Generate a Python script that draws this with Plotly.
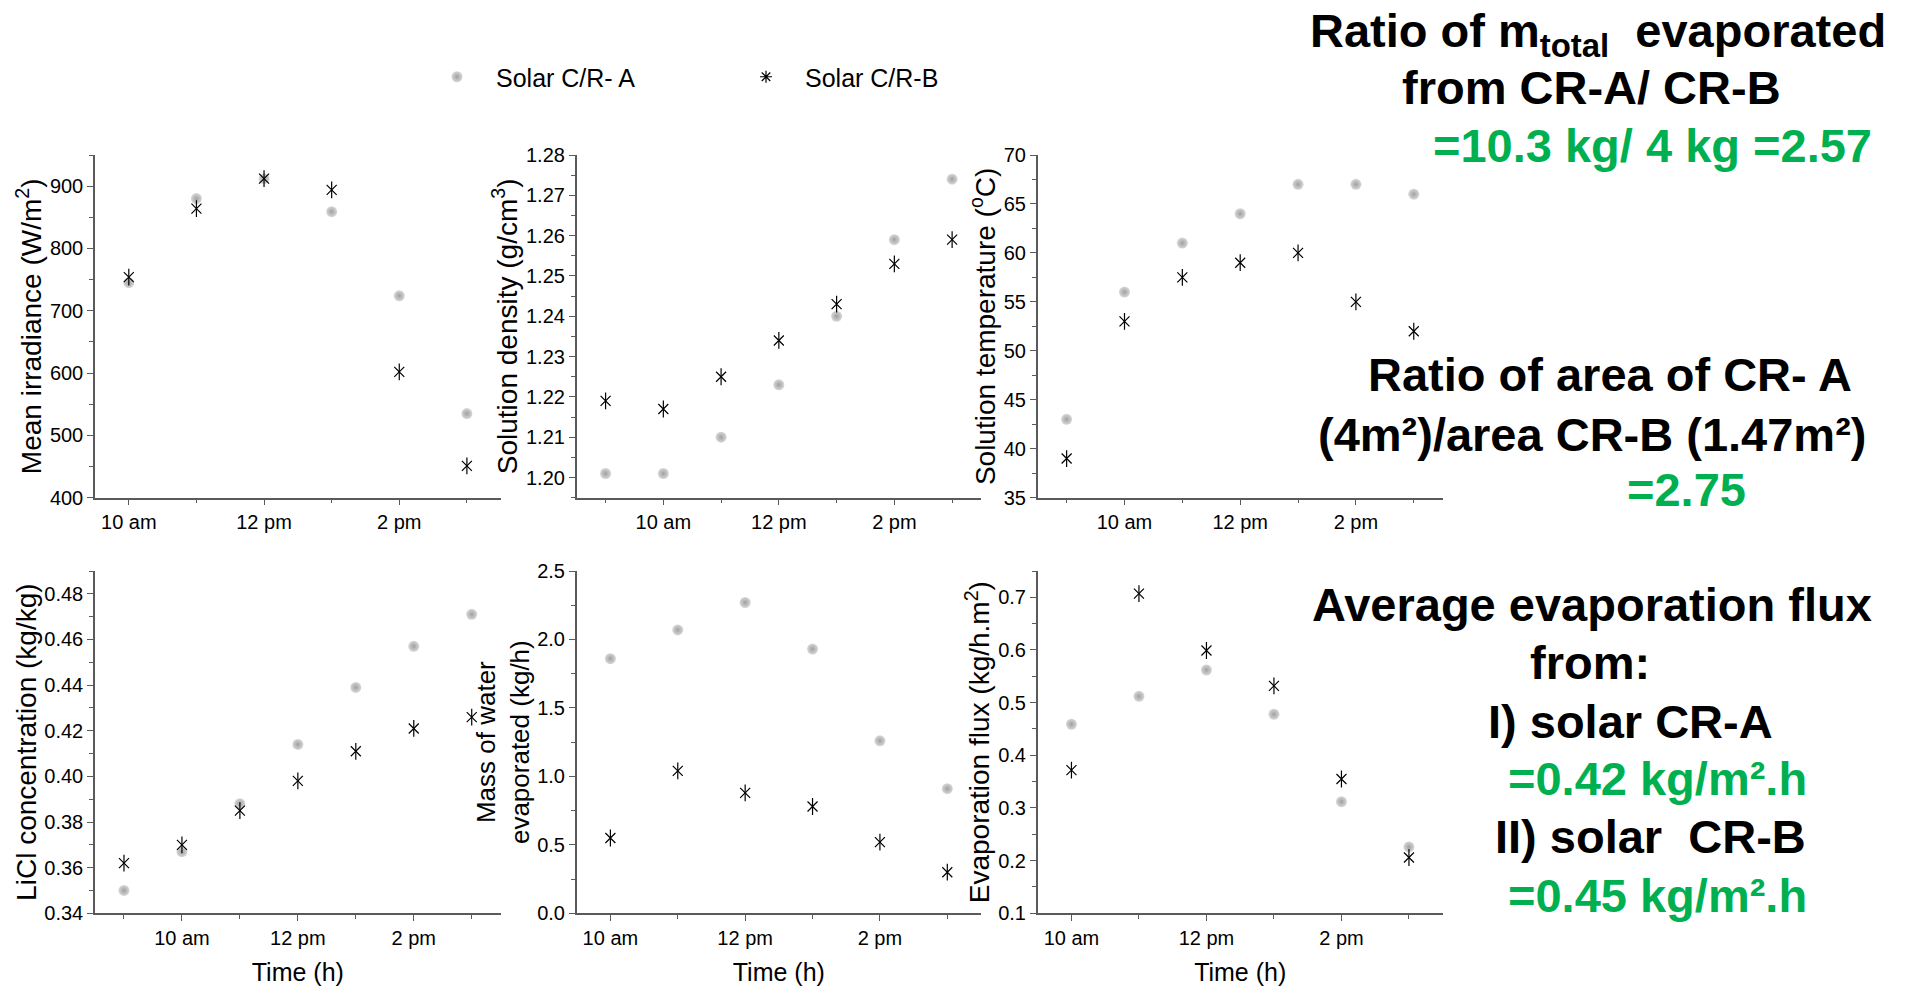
import plotly.graph_objects as go

# Sampling hours (24 h clock)
hours_six = [10, 11, 12, 13, 14, 15]
hours_seven = [9, 10, 11, 12, 13, 14, 15]
time_tickvals = [10, 12, 14]
time_ticktext = ["10 am", "12 pm", "2 pm"]

series_names = ["Solar C/R- A", "Solar C/R-B"]

# Mean irradiance (W/m2)
irradiance_a = [745, 880, 912, 859, 724, 535]
irradiance_b = [754, 864, 912, 894, 602, 451]

# Solution density (g/cm3)
density_a = [1.201, 1.201, 1.210, 1.223, 1.240, 1.259, 1.274]
density_b = [1.219, 1.217, 1.225, 1.234, 1.243, 1.253, 1.259]

# Solution temperature (oC)
temperature_a = [43, 56, 61, 64, 67, 67, 66]
temperature_b = [39, 53, 57.5, 59, 60, 55, 52]

# LiCl concentration (kg/kg)
licl_a = [0.350, 0.367, 0.388, 0.414, 0.439, 0.457, 0.471]
licl_b = [0.362, 0.370, 0.385, 0.398, 0.411, 0.421, 0.426]

# Mass of water evaporated (kg/h)
mass_a = [1.86, 2.07, 2.27, 1.93, 1.26, 0.91]
mass_b = [0.55, 1.04, 0.88, 0.78, 0.52, 0.30]

# Evaporation flux (kg/h.m2)
flux_a = [0.459, 0.512, 0.562, 0.478, 0.312, 0.226]
flux_b = [0.372, 0.707, 0.599, 0.532, 0.355, 0.206]

W, H = 1906, 989
FONT = "Arial, Liberation Sans, sans-serif"
AXIS_GREY = "#5a5a5a"
GREEN = "rgb(0,176,80)"

# Plot boxes in pixels: (left, right, top, bottom)
col_px = [(95, 500.7), (576.7, 981), (1037.7, 1442.7)]
row_px = [(155, 497.7), (571, 913.3)]

panels = [
    dict(x=hours_six, a=irradiance_a, b=irradiance_b, xr=[9.5, 15.5], yr=[400, 950],
         tick0=400, dtick=100, fmt="d", title="Mean irradiance (W/m<sup>2</sup>)",
         tsize=28, pos=(0, 0)),
    dict(x=hours_seven, a=density_a, b=density_b, xr=[8.5, 15.5], yr=[1.195, 1.28],
         tick0=1.20, dtick=0.01, fmt=".2f", title="Solution density (g/cm<sup>3</sup>)",
         tsize=28, pos=(0, 1)),
    dict(x=hours_seven, a=temperature_a, b=temperature_b, xr=[8.5, 15.5], yr=[35, 70],
         tick0=35, dtick=5, fmt="d", title="Solution temperature (<sup>o</sup>C)",
         tsize=28, pos=(0, 2)),
    dict(x=hours_seven, a=licl_a, b=licl_b, xr=[8.5, 15.5], yr=[0.34, 0.49],
         tick0=0.34, dtick=0.02, fmt=".2f", title="LiCl concentration (kg/kg)",
         tsize=28, pos=(1, 0)),
    dict(x=hours_six, a=mass_a, b=mass_b, xr=[9.5, 15.5], yr=[0, 2.5],
         tick0=0, dtick=0.5, fmt=".1f", title="Mass of water<br>evaporated (kg/h)",
         tsize=26, pos=(1, 1)),
    dict(x=hours_six, a=flux_a, b=flux_b, xr=[9.5, 15.5], yr=[0.1, 0.75],
         tick0=0.1, dtick=0.1, fmt=".1f", title="Evaporation flux (kg/h.m<sup>2</sup>)",
         tsize=28, pos=(1, 2)),
]

fig = go.Figure()
layout = {}

sphere = dict(symbol="circle", size=11, color="#d8d8d8",
              gradient=dict(type="radial", color="#a0a0a0"), line=dict(width=0))

for i, p in enumerate(panels):
    n = "" if i == 0 else str(i + 1)
    xa, ya = "x" + n, "y" + n
    row, col = p["pos"]
    l, r = col_px[col]
    t, b = row_px[row]
    minor_x = [h for h in p["x"] if h not in time_tickvals]

    fig.add_trace(go.Scatter(
        x=p["x"], y=p["a"], mode="markers", xaxis=xa, yaxis=ya,
        name=series_names[0], marker=sphere, showlegend=(i == 0), legend="legend"))
    fig.add_trace(go.Scatter(
        x=p["x"], y=p["b"], mode="markers", xaxis=xa, yaxis=ya, showlegend=False,
        marker=dict(symbol="x-thin-open", size=10, color="black", line=dict(width=1.2, color="black"))))
    fig.add_trace(go.Scatter(
        x=p["x"], y=p["b"], mode="markers", xaxis=xa, yaxis=ya, showlegend=False,
        marker=dict(symbol="line-ns-open", size=12, color="black", line=dict(width=1.2, color="black"))))

    xaxis = dict(
        domain=[l / W, r / W], anchor=ya, range=p["xr"], automargin=False,
        tickmode="array", tickvals=time_tickvals, ticktext=time_ticktext,
        ticks="outside", ticklen=6, tickwidth=1.2, tickcolor=AXIS_GREY,
        minor=dict(tickmode="array", tickvals=minor_x, ticks="outside", ticklen=4,
                   tickwidth=1.2, tickcolor=AXIS_GREY),
        showline=True, linecolor=AXIS_GREY, linewidth=1.5, showgrid=False, zeroline=False,
        tickfont=dict(family=FONT, size=20, color="black"), ticklabelstandoff=0,
    )
    if row == 1:
        xaxis["title"] = dict(text="Time (h)", standoff=15,
                              font=dict(family=FONT, size=25, color="black"))
    layout["xaxis" + n] = xaxis
    layout["yaxis" + n] = dict(
        domain=[1 - b / H, 1 - t / H], anchor=xa, range=p["yr"], automargin=False,
        tickmode="linear", tick0=p["tick0"], dtick=p["dtick"], tickformat=p["fmt"],
        ticks="outside", ticklen=6, tickwidth=1.2, tickcolor=AXIS_GREY,
        minor=dict(dtick=p["dtick"] / 2, tick0=p["tick0"], ticks="outside", ticklen=4,
                   tickwidth=1.2, tickcolor=AXIS_GREY),
        showline=True, linecolor=AXIS_GREY, linewidth=1.5, showgrid=False, zeroline=False,
        tickfont=dict(family=FONT, size=20, color="black"),
        title=dict(text=p["title"], standoff=0,
                   font=dict(family=FONT, size=p["tsize"], color="black")),
    )

# Legend entry for the asterisk series
fig.add_trace(go.Scatter(
    x=[None], y=[None], mode="markers", name=series_names[1], legend="legend2",
    marker=dict(symbol="asterisk-open", size=10, color="black", line=dict(width=1.2, color="black"))))

legend_common = dict(orientation="h", yanchor="middle", xanchor="left", itemwidth=68,
                     bgcolor="rgba(0,0,0,0)", font=dict(family=FONT, size=25, color="black"))

# Summary notes on the right-hand side: (text, centre x px, centre y px, colour)
notes = [
    ("Ratio of m<sub>total</sub>\u00a0\u00a0evaporated", 1598, 34, "black"),
    ("from CR-A/ CR-B", 1591, 87.5, "black"),
    ("=10.3 kg/ 4 kg =2.57", 1652, 146, GREEN),
    ("Ratio of area of CR- A", 1610, 374, "black"),
    ("(4m\u00b2)/area CR-B (1.47m\u00b2)", 1592, 434, "black"),
    ("=2.75", 1686, 490, GREEN),
    ("Average evaporation flux", 1592, 604, "black"),
    ("from:", 1590, 662, "black"),
    ("I) solar CR-A", 1630, 721, "black"),
    ("=0.42 kg/m\u00b2.h", 1657, 778, GREEN),
    ("II) solar\u00a0\u00a0CR-B", 1650, 836, "black"),
    ("=0.45 kg/m\u00b2.h", 1657, 895, GREEN),
]
annotations = [
    dict(text="<b>" + txt + "</b>", x=cx / W, y=1 - cy / H, xref="paper", yref="paper",
         xanchor="center", yanchor="middle", showarrow=False,
         font=dict(family=FONT, size=47, color=col))
    for txt, cx, cy, col in notes
]

fig.update_layout(
    width=W, height=H, margin=dict(l=0, r=0, t=0, b=0, autoexpand=False),
    paper_bgcolor="white", plot_bgcolor="white",
    showlegend=True,
    legend=dict(x=418 / W, y=1 - 77 / H, **legend_common),
    legend2=dict(x=727 / W, y=1 - 77 / H, **legend_common),
    annotations=annotations,
    **layout,
)

fig.write_html("out.html")
